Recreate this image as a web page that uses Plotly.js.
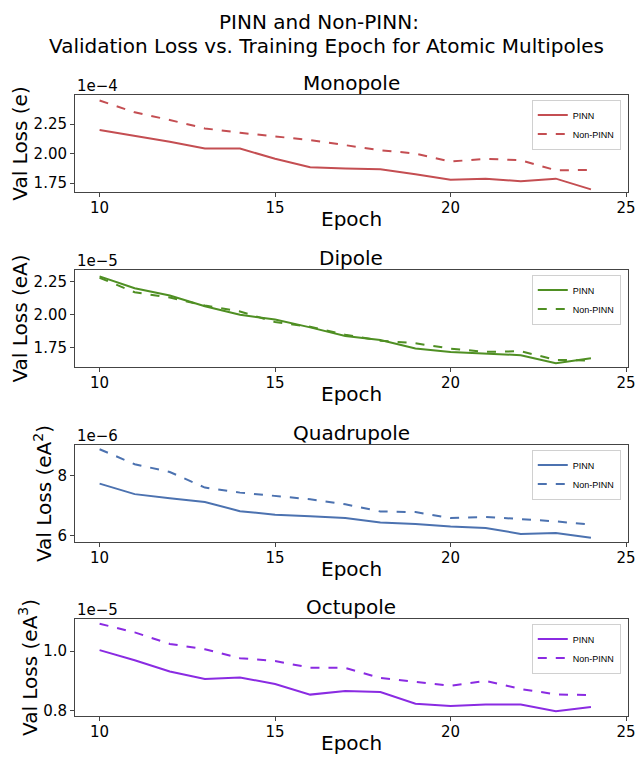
<!DOCTYPE html>
<html>
<head>
<meta charset="utf-8">
<script src="https://cdn.plot.ly/plotly-3.0.1.min.js"></script>
<style>html,body{margin:0;padding:0;background:#fff;}#chart{width:638px;height:757px;}</style>
</head>
<body>
<div id="chart"></div>
<script>
const epochs = [10,11,12,13,14,15,16,17,18,19,20,21,22,23,24];

// Monopole (x1e-4)
const monoPINN    = [2.20,2.15,2.10,2.043,2.043,1.955,1.884,1.872,1.866,1.824,1.778,1.787,1.764,1.787,1.696];
const monoNonPINN = [2.449,2.349,2.284,2.213,2.176,2.148,2.114,2.071,2.028,2.00,1.932,1.955,1.943,1.858,1.861];
// Dipole (x1e-5)
const diPINN      = [2.29,2.20,2.145,2.065,2.00,1.965,1.905,1.84,1.81,1.745,1.72,1.71,1.695,1.635,1.672];
const diNonPINN   = [2.28,2.17,2.13,2.07,2.025,1.945,1.91,1.85,1.805,1.785,1.745,1.72,1.725,1.66,1.655];
// Quadrupole (x1e-6)
const quadPINN    = [7.74,7.39,7.25,7.13,6.82,6.70,6.65,6.59,6.44,6.39,6.31,6.26,6.06,6.09,5.93];
const quadNonPINN = [8.89,8.39,8.13,7.61,7.44,7.33,7.22,7.05,6.81,6.79,6.59,6.63,6.56,6.48,6.37];
// Octupole (x1e-5)
const octPINN     = [1.003,0.969,0.931,0.906,0.911,0.889,0.853,0.865,0.862,0.822,0.815,0.820,0.820,0.797,0.811];
const octNonPINN  = [1.092,1.063,1.024,1.006,0.976,0.966,0.944,0.943,0.909,0.897,0.883,0.899,0.872,0.854,0.851];

const titleLines = ["PINN and Non-PINN:", "Validation Loss vs. Training Epoch for Atomic Multipoles"];
const panelTitles = ["Monopole","Dipole","Quadrupole","Octupole"];
const yTitles = ["Val Loss (e)","Val Loss (eA)","Val Loss (eA<sup>2</sup>)","Val Loss (eA<sup>3</sup>)"];
const xTitle = "Epoch";
const offsets = ["1e\u22124","1e\u22125","1e\u22126","1e\u22125"];
const seriesNames = ["PINN","Non-PINN"];

const panels = [
  {pinn: monoPINN, non: monoNonPINN, color: "#c44e52", dom: [0.7464, 0.8745], yr: [1.674, 2.496], tickvals: [1.75,2.00,2.25], fmt: ".2f"},
  {pinn: diPINN,   non: diNonPINN,   color: "#4f8f23", dom: [0.5152, 0.6433], yr: [1.606, 2.338], tickvals: [1.75,2.00,2.25], fmt: ".2f"},
  {pinn: quadPINN, non: quadNonPINN, color: "#4c72b0", dom: [0.2840, 0.4121], yr: [5.79, 9.03],   tickvals: [6,8],            fmt: "d"},
  {pinn: octPINN,  non: octNonPINN,  color: "#8a2be2", dom: [0.0542, 0.1823], yr: [0.781, 1.108], tickvals: [0.8,1.0],        fmt: ".1f"}
];

const H = 757;
const xDom = [0.1176, 0.984];
const font = "DejaVu Sans, sans-serif";
const traces = [];
const layout = {
  width: 638, height: H,
  margin: {l:0, r:0, t:0, b:0},
  paper_bgcolor: "#fff", plot_bgcolor: "#fff",
  font: {family: font, color: "#000"},
  annotations: [],
  showlegend: true
};

// figure title (two lines)
layout.annotations.push({text: titleLines[0], xref: "paper", yref: "paper", x: 0.5, y: 1 - 22/H,
  xanchor: "center", yanchor: "middle", showarrow: false, font: {family: font, size: 20, color: "#000"}});
layout.annotations.push({text: titleLines[1], xref: "paper", yref: "paper", x: 0.512, y: 1 - 46/H,
  xanchor: "center", yanchor: "middle", showarrow: false, font: {family: font, size: 20, color: "#000"}});

panels.forEach((p, i) => {
  const n = i + 1;
  const xa = n === 1 ? "x" : "x" + n;
  const ya = n === 1 ? "y" : "y" + n;
  const lg = n === 1 ? "legend" : "legend" + n;
  traces.push({x: epochs, y: p.pinn, name: seriesNames[0], mode: "lines", xaxis: xa, yaxis: ya, legend: lg,
               line: {color: p.color, width: 2, dash: "solid"}});
  traces.push({x: epochs, y: p.non, name: seriesNames[1], mode: "lines", xaxis: xa, yaxis: ya, legend: lg,
               line: {color: p.color, width: 2, dash: "dash"}});
  const axBase = {showline: true, mirror: true, linecolor: "#444", linewidth: 1, showgrid: false, zeroline: false,
                  ticks: "outside", ticklen: 4, tickcolor: "#444", tickfont: {family: font, size: 15, color: "#000"}};
  layout["xaxis" + (n === 1 ? "" : n)] = Object.assign({}, axBase, {
    domain: xDom, anchor: ya, range: [9.3, 25.05], tickvals: [10,15,20,25], ticklabelstandoff: -2
  });
  layout["yaxis" + (n === 1 ? "" : n)] = Object.assign({}, axBase, {
    domain: p.dom, anchor: xa, range: p.yr, tickvals: p.tickvals, tickformat: p.fmt,
    title: {text: yTitles[i], font: {family: font, size: 20, color: "#000"}, standoff: 0}
  });
  layout[lg] = {x: 0.973, xanchor: "right", y: p.dom[1] - 0.006, yanchor: "top", xref: "paper", yref: "paper",
                bgcolor: "rgba(255,255,255,0.9)", bordercolor: "#d0d0d0", borderwidth: 1,
                font: {family: "Liberation Sans, Arial, sans-serif", size: 9, color: "#000"},
                itemwidth: 30, tracegroupgap: 0};
  layout.annotations.push({text: panelTitles[i], xref: "paper", yref: "paper", x: (xDom[0]+xDom[1])/2, y: p.dom[1],
                           xanchor: "center", yanchor: "bottom", yshift: -2, showarrow: false,
                           font: {family: font, size: 20, color: "#000"}});
  layout.annotations.push({text: offsets[i], xref: "paper", yref: "paper", x: xDom[0], y: p.dom[1],
                           xanchor: "left", yanchor: "bottom", yshift: -2, showarrow: false,
                           font: {family: font, size: 15, color: "#000"}});
  layout.annotations.push({text: xTitle, xref: "paper", yref: "paper", x: (xDom[0]+xDom[1])/2, y: p.dom[0],
                           xanchor: "center", yanchor: "middle", yshift: -27, showarrow: false,
                           font: {family: font, size: 20, color: "#000"}});
});

Plotly.newPlot("chart", traces, layout, {displayModeBar: false, staticPlot: true});
</script>
</body>
</html>
